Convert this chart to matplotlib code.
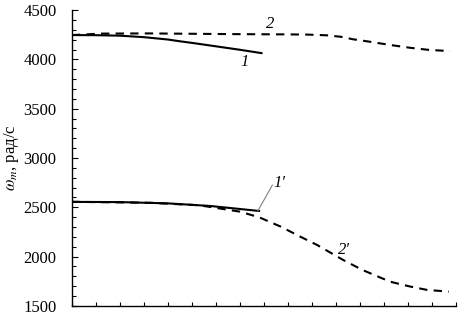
import matplotlib
matplotlib.use("Agg")
import matplotlib.pyplot as plt
from matplotlib.ticker import MultipleLocator, NullFormatter

plt.rcParams['font.family'] = ['Liberation Serif', 'DejaVu Serif']
plt.rcParams['mathtext.fontset'] = 'stix'

# curve 1 (solid, upper)
x1 = [0, 1, 2, 3, 4, 4.5, 5, 6, 7, 7.9]
y1 = [4247, 4246, 4241, 4226, 4202, 4184, 4168, 4133, 4098, 4064]

# curve 2 (dashed, upper)
x2 = [0, 1.2, 3.2, 6.6, 9.0, 9.8, 10.6, 11.2, 11.7, 12.4, 13.25, 14.1, 14.9, 15.75]
y2 = [4247, 4262, 4264, 4257, 4254, 4252, 4245, 4230, 4205, 4180, 4147, 4118, 4096, 4085]

# curve 1' (solid, lower)
x1p = [0, 2, 4, 5.75, 7.8]
y1p = [2555, 2553, 2540, 2514, 2463]

# curve 2' (dashed, lower)
x2p = [0, 3.25, 5.3, 7.0, 7.8, 8.7, 9.5, 10.2, 11.3, 12.1, 13.25, 14.1, 14.8, 15.7]
y2p = [2556, 2546, 2521, 2456, 2399, 2304, 2204, 2120, 1966, 1865, 1746, 1696, 1662, 1645]

fig = plt.figure(figsize=(4.73, 3.17), dpi=100)
ax = fig.add_axes([0.152, 0.035, 0.812, 0.933])

ax.plot(x1, y1, color="black", linewidth=1.5)
ax.plot(x2, y2, color="black", linewidth=1.5, linestyle=(0, (4, 3)))
ax.plot(x1p, y1p, color="black", linewidth=1.5)
ax.plot(x2p, y2p, color="black", linewidth=1.5, linestyle=(0, (4, 3)))

ax.set_xlim(0, 16)
ax.set_ylim(1500, 4500)
ax.xaxis.set_major_locator(MultipleLocator(1))
ax.xaxis.set_major_formatter(NullFormatter())
ax.yaxis.set_major_locator(MultipleLocator(500))
ax.yaxis.set_minor_locator(MultipleLocator(100))
ax.tick_params(axis='y', which='major', direction='in', length=4, width=0.8, pad=11, labelsize=12)
ax.tick_params(axis='y', which='minor', direction='in', length=3, width=0.8)
ax.tick_params(axis='x', which='major', direction='in', length=3, width=0.8)
for s in ['top', 'right']:
    ax.spines[s].set_visible(False)
for s in ['left', 'bottom']:
    ax.spines[s].set_linewidth(1.0)

ax.set_ylabel(r"$\omega_m$, рад/с", fontsize=12, labelpad=2)

# curve labels
ax.text(8.1, 4320, "2", fontsize=12, style='italic')
ax.text(7.0, 3930, "1", fontsize=12, style='italic')
ax.text(8.4, 2710, "1′", fontsize=12, style='italic')
ax.text(11.1, 2030, "2′", fontsize=12, style='italic')
ax.plot([7.75, 8.35], [2465, 2725], color="gray", linewidth=0.8)

fig.savefig("out.png", dpi=100)
